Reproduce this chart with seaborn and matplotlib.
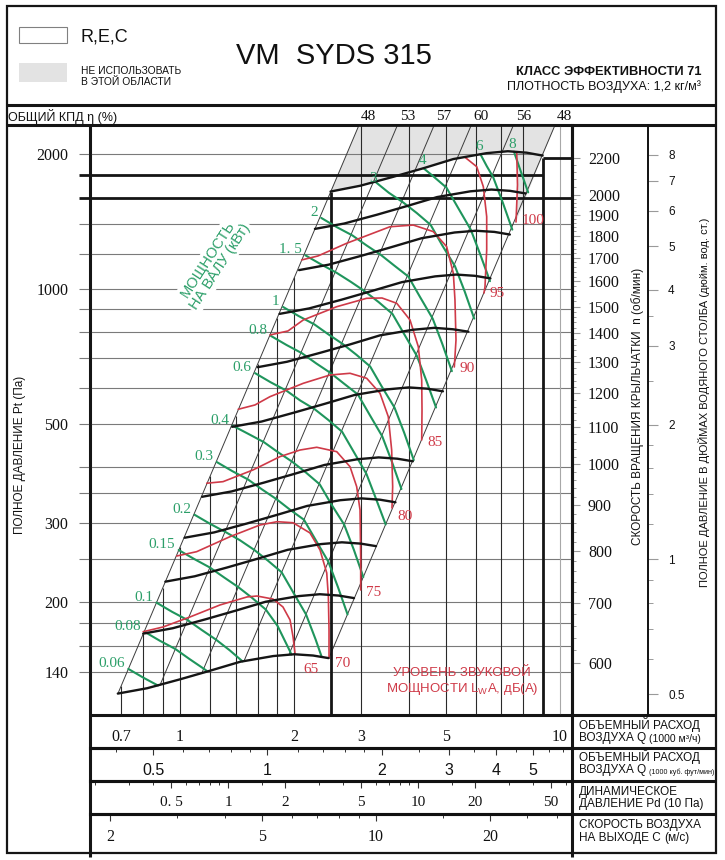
import numpy as np
import pandas as pd
import matplotlib
matplotlib.use("Agg")
import matplotlib.pyplot as plt
from matplotlib.patches import Rectangle
from matplotlib.ticker import NullFormatter
import seaborn as sns

# ---------------------------------------------------------------
# chart values
# flow Q in 1000 m3/h, total pressure P in Pa
# ---------------------------------------------------------------

# fan curves, one per impeller speed (rpm)
speed_rpm = [600, 700, 800, 900, 1000, 1200, 1400, 1600, 1800, 2000, 2200]
speed_q = [
    [0.686, 0.82, 1.0, 1.2, 1.44, 1.76, 2.0, 2.24, 2.46],
    [0.800, 0.957, 1.167, 1.40, 1.68, 2.053, 2.333, 2.613, 2.87],
    [0.915, 1.093, 1.333, 1.60, 1.92, 2.347, 2.667, 2.987, 3.28],
    [1.029, 1.23, 1.5, 1.8, 2.16, 2.64, 3.0, 3.36, 3.69],
    [1.143, 1.367, 1.667, 2.0, 2.4, 2.933, 3.333, 3.733, 4.1],
    [1.372, 1.64, 2.0, 2.4, 2.88, 3.52, 4.0, 4.48, 4.92],
    [1.601, 1.913, 2.333, 2.8, 3.36, 4.107, 4.667, 5.227, 5.74],
    [1.829, 2.187, 2.667, 3.2, 3.84, 4.693, 5.333, 5.973, 6.56],
    [2.058, 2.46, 3.0, 3.6, 4.32, 5.28, 6.0, 6.72, 7.38],
    [2.265, 2.705, 3.30, 3.96, 4.75, 5.81, 6.60, 7.39, 8.12],
    [2.49, 2.98, 3.64, 4.37, 5.24, 6.41, 7.29, 8.17, 9.0],
]
speed_p = [
    [125, 128.5, 134.5, 140.6, 147.2, 151.6, 153, 152, 150],
    [170.1, 174.9, 183.1, 191.4, 200.4, 206.3, 208.3, 206.9, 204.2],
    [222.2, 228.4, 239.1, 250.0, 261.7, 269.5, 272.0, 270.2, 266.7],
    [278.5, 286.2, 299.6, 313.2, 327.9, 337.7, 340.9, 338.6, 334.1],
    [343.7, 353.3, 369.9, 386.7, 404.8, 416.9, 420.8, 418, 412.5],
    [492.5, 506, 530, 554, 580, 597, 603, 599, 591],
    [669, 688, 720, 752, 788, 811, 819, 813, 803],
    [880, 905, 947, 990, 1036, 1067, 1077, 1070, 1056],
    [1102, 1133, 1186, 1240, 1298, 1337, 1349, 1341, 1323],
    [1362, 1400, 1465, 1532, 1604, 1652, 1667, 1656, 1634],
    [1650, 1700, 1780, 1860, 1950, 2010, 2030, 2015, 1985],
]

# sound power level contours, dB(A)
sound_db = ["65", "70", "75", "80", "85", "90", "95", "100"]
sound_q = [
    [0.800, 0.902, 1.062, 1.274, 1.501, 1.594, 1.757, 1.866, 1.948, 1.984, 2.007],
    [0.980, 1.106, 1.354, 1.623, 1.800, 1.984, 2.198, 2.336, 2.433, 2.457, 2.467, 2.467],
    [1.176, 1.298, 1.556, 1.833, 2.070, 2.290, 2.585, 2.802, 2.917, 2.977, 2.989, 2.989],
    [1.423, 1.575, 1.725, 2.111, 2.481, 2.802, 3.099, 3.360, 3.533, 3.606, 3.628, 3.613],
    [1.725, 1.924, 2.111, 2.585, 3.099, 3.401, 3.719, 4.030, 4.238, 4.326, 4.334, 4.326],
    [2.090, 2.307, 2.746, 3.569, 4.111, 4.641, 5.032, 5.240, 5.292, 5.325, 5.271],
    [5.623, 6.037, 6.284, 6.414, 6.414, 6.348, 6.310],
    [7.693, 7.73, 7.66],
]
sound_p = [
    [171.8, 176.0, 185.3, 197.1, 205.4, 206.4, 203.2, 195.1, 182.5, 167.2, 154.0],
    [253.5, 259.2, 280.0, 297.3, 302.4, 300.8, 285.4, 261.5, 232.4, 205.7, 173.3, 150.1],
    [368.5, 371.5, 394.5, 422.5, 437.1, 443.3, 433.4, 401.1, 362.1, 321.1, 248.5, 212.9],
    [538.9, 551.0, 575.0, 615.9, 642.7, 648.4, 632.0, 585.1, 518.8, 437.1, 362.1, 324.5],
    [789.5, 806.0, 852.9, 913.0, 953.3, 954.8, 929.1, 852.9, 743.3, 626.5, 537.0, 460.3],
    [1161, 1185, 1265, 1377, 1389, 1343, 1243, 1084, 945, 769.4, 669.8],
    [1968, 1875, 1692, 1450, 1222, 1012, 979.6],
    [2020, 1707, 1411],
]

# shaft power contours, kW
power_kw = ["0.06", "0.08", "0.1", "0.15", "0.2", "0.3", "0.4", "0.6",
            "0.8", "1", "1. 5", "2", "3", "4", "6", "8"]
power_q = [
    [0.731, 0.804, 0.875],
    [0.805, 0.885, 0.972, 1.059, 1.154, 1.177],
    [0.867, 0.953, 1.047, 1.141, 1.243, 1.352, 1.461],
    [0.992, 1.091, 1.198, 1.306, 1.423, 1.547, 1.682, 1.806, 1.950, 1.963],
    [1.092, 1.200, 1.319, 1.437, 1.566, 1.703, 1.851, 1.987, 2.146, 2.275, 2.360],
    [1.250, 1.374, 1.510, 1.645, 1.793, 1.950, 2.119, 2.275, 2.457, 2.604, 2.760],
    [1.376, 1.512, 1.662, 1.811, 1.974, 2.146, 2.332, 2.504, 2.703, 2.867, 3.037],
    [1.576, 1.731, 1.903, 2.073, 2.259, 2.457, 2.670, 2.867, 3.094, 3.281, 3.477],
    [1.734, 1.906, 2.094, 2.281, 2.487, 2.703, 2.938, 3.154, 3.407, 3.611, 3.826],
    [1.867, 2.053, 2.256, 2.458, 2.679, 2.912, 3.165, 3.398, 3.668, 3.890, 4.123],
    [2.138, 2.350, 2.582, 2.813, 3.065, 3.333, 3.623, 3.890, 4.201, 4.454, 4.719],
    [2.353, 2.587, 2.842, 3.097, 3.375, 3.668, 3.990, 4.280, 4.624, 4.900, 5.194],
    [3.265, 3.544, 3.864, 4.201, 4.567, 4.898, 5.290, 5.610, 5.946],
    [4.374, 4.624, 5.025, 5.394, 5.825, 6.173, 6.543],
    [6.173, 6.417, 6.668, 7.067, 7.490],
    [7.568, 7.780, 8.247],
]
power_p = [
    [141.9, 135.4, 130.3],
    [171.9, 164.0, 157.2, 149.3, 142.1, 140.4],
    [199.5, 190.3, 182.4, 173.3, 165.0, 156.1, 147.5],
    [261.4, 249.5, 239.0, 227.1, 216.1, 204.5, 192.5, 177.0, 155.0, 152.8],
    [313.4, 299.1, 286.6, 275.0, 261.8, 247.6, 233.2, 210.1, 187.8, 165.0, 150.9],
    [410.8, 392.0, 375.7, 356.8, 339.7, 321.4, 305.5, 275.3, 246.2, 216.1, 187.8],
    [495.3, 475.0, 455.2, 432.2, 411.5, 389.2, 366.4, 330.3, 298.1, 261.9, 227.6],
    [648.9, 619.3, 593.5, 563.6, 539.5, 510.0, 480.2, 432.7, 386.8, 339.8, 298.2],
    [785.9, 750.1, 718.8, 682.5, 649.9, 614.6, 581.6, 524.2, 468.7, 411.5, 357.7],
    [911.8, 870.1, 833.9, 792.0, 754.1, 713.2, 671.6, 605.2, 543.8, 477.7, 415.1],
    [1189, 1135, 1087, 1038, 988.2, 934.7, 879.9, 793.0, 709.0, 622.6, 543.9],
    [1441, 1374, 1317, 1251, 1192, 1127, 1066, 960.4, 858.6, 754.5, 655.5],
    [1735, 1640, 1561, 1477, 1390, 1252, 1125, 988.6, 858.8],
    [1860, 1789, 1684, 1517, 1356, 1192, 1041],
    [2000, 1880, 1778, 1561, 1357],
    [2025, 1891, 1643],
]

# total efficiency lines (%), straight system lines
eff_pct = ["48", "53", "57", "60", "56", "48"]
eff_q_bottom = [0.687, 0.886, 1.143, 1.474, 1.936, 2.466]
eff_p_bottom = [125.2, 130.6, 139.3, 147.8, 152.9, 150.1]
eff_q_top = [2.959, 3.736, 4.667, 5.843, 7.545, 9.705]
eff_p_top = [2323, 2323, 2323, 2323, 2323, 2323]

# axis ticks
q_ticks = [0.7, 1, 2, 3, 5, 10]
q_tick_labels = ["0.7", "1", "2", "3", "5", "10"]
q_minor = [0.8, 0.9, 1.2, 1.4, 1.6, 1.8, 2.5, 4, 6, 7, 8, 9]
q_grid_low = [0.7, 0.8, 0.9, 1, 1.2, 1.4, 1.6, 1.8, 2]
q_grid_full = [3, 4, 5, 6, 7, 8]
p_ticks = [140, 200, 300, 500, 1000, 2000]
p_grid = [140, 160, 180, 200, 250, 300, 350, 400, 500, 600, 700, 800, 900,
          1000, 1200, 1400]
rpm_ticks = [600, 700, 800, 900, 1000, 1100, 1200, 1300, 1400, 1500, 1600,
             1700, 1800, 1900, 2000, 2200]
inch_ticks = [0.5, 1, 2, 3, 4, 5, 6, 7, 8]
inch_minor = [0.6, 0.7, 0.8, 0.9, 1.2, 1.4, 1.6, 1.8, 2.5, 3.5]
cfm_ticks = [0.5, 1, 2, 3, 4, 5]
cfm_minor = [0.4, 0.6, 0.7, 0.8, 0.9, 1.2, 1.4, 1.6, 1.8, 2.5, 3.5, 4.5, 5.5, 6]
pd_ticks = [0.5, 1, 2, 5, 10, 20, 50]
pd_tick_labels = ["0. 5", "1", "2", "5", "10", "20", "50"]
pd_minor = [0.2, 0.3, 0.4, 0.6, 0.7, 0.8, 0.9, 1.5, 3, 4, 6, 7, 8, 9, 15, 30, 40, 60]
vel_ticks = [2, 5, 10, 20]
vel_minor = [3, 4, 6, 7, 8, 9, 15, 25, 30]

# unit conversions used by the side and bottom scales
RPM_REF_PA = 406.0      # Pa on the speed scale at 1000 rpm
PA_PER_INCH = 249.0
M3H_PER_CFM = 1.699
VEL_PER_Q = 3.05        # outlet velocity m/s per 1000 m3/h
PD_PER_Q2 = 0.558       # dynamic pressure (10 Pa) per (1000 m3/h)^2

Q_LIM = (0.5796, 10.755)
P_LIM = (111.97, 2323)
GRID_Q0 = 0.542         # horizontal lines start a little left of the frame

BLACK = "#151515"
RED = "#cf3a48"
GREEN = "#1f955c"
GREEN_TXT = "#2c9f69"
FILL = "#e3e3e3"

sns.set_style("white")
SANS = ["Liberation Sans", "DejaVu Sans"]
SERIF = ["Liberation Serif", "DejaVu Serif"]
plt.rcParams["font.family"] = SANS
plt.rcParams["text.color"] = "#111111"
plt.rcParams["axes.edgecolor"] = "#111111"
plt.rcParams["xtick.color"] = "#333333"
plt.rcParams["ytick.color"] = "#333333"
plt.rcParams["xtick.labelcolor"] = "#111111"
plt.rcParams["ytick.labelcolor"] = "#111111"


def curve_frame(names, qs, ps):
    rows = []
    for name, q, p in zip(names, qs, ps):
        for i, (qi, pi) in enumerate(zip(q, p)):
            rows.append((name, i, qi, pi))
    return pd.DataFrame(rows, columns=["curve", "order", "Q", "P"])


def pa_to_rpm(p):
    return 1000 * np.sqrt(np.clip(p, 1e-9, None) / RPM_REF_PA)


def rpm_to_pa(n):
    return RPM_REF_PA * (np.asarray(n, dtype=float) / 1000) ** 2


fig = plt.figure(figsize=(7.25, 8.6), dpi=100)

# page layer in pixel units for the frame, header and captions
frame = fig.add_axes([0, 0, 1, 1])
frame.set_xlim(0, 725)
frame.set_ylim(860, 0)
frame.axis("off")

ax = fig.add_axes([90 / 725, 145 / 860, 482 / 725, 590 / 860])
ax.set_facecolor("none")
ax.set_xscale("log")
ax.set_yscale("log")

# "do not use" area: above the top speed curve and right of the 100 dB line
top_q, top_p = speed_q[-1], speed_p[-1]
edge_q, edge_p = sound_q[-1], sound_p[-1]
poly_q = [eff_q_top[0], eff_q_top[-1]] + edge_q[::-1]
poly_p = [eff_p_top[0], eff_p_top[-1]] + edge_p[::-1]
for q, p in sorted(zip(top_q, top_p), reverse=True):
    if q < edge_q[0]:
        poly_q.append(q)
        poly_p.append(p)
ax.fill(poly_q, poly_p, color=FILL, lw=0, zorder=0.5)

# grid
ax.hlines(p_grid, GRID_Q0, Q_LIM[1], colors="#7a7a7a", lw=0.8, clip_on=False, zorder=1)
ax.hlines(2000, GRID_Q0, 9, colors="#7a7a7a", lw=0.8, clip_on=False, zorder=1)
ax.hlines(1800, GRID_Q0, 9, colors=BLACK, lw=2.0, clip_on=False, zorder=1.3)
ax.hlines(1600, GRID_Q0, Q_LIM[1], colors=BLACK, lw=2.0, clip_on=False, zorder=1.3)
ax.hlines(rpm_to_pa(2200), 9, Q_LIM[1], colors=BLACK, lw=2.0, zorder=1.3)

lq = np.log10([eff_q_bottom[0], eff_q_top[0]])
lp = np.log10([eff_p_bottom[0], eff_p_top[0]])
p_left_edge = 10 ** np.interp(np.log10(q_grid_low), lq, lp)
ax.vlines(q_grid_low, P_LIM[0], p_left_edge, colors="#2a2a2a", lw=0.8, zorder=1)
ax.vlines(q_grid_full, P_LIM[0], P_LIM[1], colors="#2a2a2a", lw=0.8, zorder=1)
ax.vlines(10, P_LIM[0], P_LIM[1], colors="#a8a8a8", lw=0.8, zorder=1)
ax.vlines(2.5, P_LIM[0], top_p[0], colors=BLACK, lw=2.0, zorder=1.3)
ax.vlines(9, P_LIM[0], rpm_to_pa(2200), colors=BLACK, lw=2.0, zorder=1.3)

# efficiency lines
eff_df = curve_frame(range(len(eff_pct)),
                     [[a, b] for a, b in zip(eff_q_bottom, eff_q_top)],
                     [[a, b] for a, b in zip(eff_p_bottom, eff_p_top)])
sns.lineplot(data=eff_df, x="Q", y="P", units="curve", estimator=None, sort=False,
             color="#3c3c3c", linewidth=0.7, legend=False, ax=ax, zorder=1.2)

# power, sound and speed curves
sns.lineplot(data=curve_frame(power_kw, power_q, power_p), x="Q", y="P",
             units="curve", estimator=None, sort=False, color=GREEN,
             linewidth=1.5, legend=False, ax=ax, zorder=2)
sns.lineplot(data=curve_frame(sound_db, sound_q, sound_p), x="Q", y="P",
             units="curve", estimator=None, sort=False, color=RED,
             linewidth=1.2, legend=False, ax=ax, zorder=2.2)
sns.lineplot(data=curve_frame(speed_rpm, speed_q, speed_p), x="Q", y="P",
             units="curve", estimator=None, sort=False, color=BLACK,
             linewidth=1.7, legend=False, ax=ax, zorder=2.4)

ax.set_xlim(*Q_LIM)
ax.set_ylim(*P_LIM)
ax.set_xlabel("")
ax.set_ylabel("")
for s in ax.spines.values():
    s.set_linewidth(2.0)
    s.set_color(BLACK)

# curve labels
for i, lbl in enumerate(power_kw):
    if i < 12:
        kw = dict(xytext=(-2.5, 4), ha="right")
    elif i == 12:
        kw = dict(xytext=(-1.5, 2.5), ha="center")
    else:
        kw = dict(xytext=(-1, 5.5), ha="center")
    ax.annotate(lbl, (power_q[i][0], power_p[i][0]), textcoords="offset points",
                va="center", color=GREEN_TXT, fontsize=11, fontfamily=SERIF,
                zorder=3, **kw)

red_offsets = [(6, -12), (4, -4), (4, -1.5), (4, -6), (4, -1.5), (4, -1), (4, -0.5), (4, 1)]
for i, lbl in enumerate(sound_db):
    ax.annotate(lbl, (sound_q[i][-1], sound_p[i][-1]), xytext=red_offsets[i],
                textcoords="offset points", ha="left", va="center", color=RED,
                fontsize=11, fontfamily=SERIF, zorder=3)

for q, lbl in zip(eff_q_top, eff_pct):
    ax.annotate(lbl, (q, 1.0), xycoords=("data", "axes fraction"), xytext=(7, 6),
                textcoords="offset points", ha="center", va="center",
                fontsize=11, fontfamily=SERIF, annotation_clip=False)

ax.text(214, 263, "МОЩНОСТЬ\nНА ВАЛУ (кВт)", transform=frame.transData,
        rotation=57, ha="center", va="center", color=GREEN_TXT, fontsize=10.5,
        linespacing=1.05, zorder=1.5,
        bbox=dict(fc="white", ec="none", pad=1.5))
ax.text(462, 682, "УРОВЕНЬ ЗВУКОВОЙ\nМОЩНОСТИ L$_\\mathregular{W}$A, дБ(А)",
        transform=frame.transData, ha="center", va="center", color=RED,
        fontsize=9.5, linespacing=1.25, zorder=3)

# main ticks: flow along the bottom, pressure on the left
ax.set_xticks(q_ticks, q_tick_labels, fontfamily=SERIF, fontsize=11.5)
ax.set_xticks(q_minor, minor=True)
ax.xaxis.set_minor_formatter(NullFormatter())
ax.set_yticks(p_ticks, [str(v) for v in p_ticks], fontfamily=SERIF, fontsize=11.5)
ax.set_yticks([], minor=True)
ax.tick_params(axis="x", which="major", direction="out", length=6, width=0.8, pad=4)
ax.tick_params(axis="x", which="minor", direction="out", length=3.5, width=0.7)
ax.tick_params(axis="y", which="major", direction="out", length=11.5, width=0.8, pad=4)
ax.tick_params(top=False, right=False)

# impeller speed scale
rpm_ax = ax.secondary_yaxis("right", functions=(pa_to_rpm, rpm_to_pa))
rpm_minor = [n for n in np.arange(620, 2000, 20) if n % 100] + [2040, 2080, 2120, 2160]
rpm_ax.set_ticks(rpm_ticks, [str(n) for n in rpm_ticks], fontfamily=SERIF, fontsize=11.5)
rpm_ax.set_ticks(rpm_minor, minor=True)
rpm_ax.yaxis.set_minor_formatter(NullFormatter())
rpm_ax.tick_params(which="major", length=5.5, width=0.8, color="#9a9a9a", pad=6)
rpm_ax.tick_params(which="minor", length=3, width=0.7, color="#9a9a9a")
rpm_ax.spines["right"].set_linewidth(2.2)

# inches of water scale
inch_ax = ax.secondary_yaxis((648 - 90) / 482,
                             functions=(lambda p: p / PA_PER_INCH,
                                        lambda i: i * PA_PER_INCH))
inch_ax.set_ticks(inch_ticks, [f"{v:g}" for v in inch_ticks], fontsize=8.5)
inch_ax.set_ticks(inch_minor, minor=True)
inch_ax.yaxis.set_minor_formatter(NullFormatter())
inch_ax.tick_params(which="major", length=7.5, width=0.8, color="#9a9a9a", pad=7)
inch_ax.tick_params(which="minor", length=3.5, width=0.7, color="#9a9a9a")
inch_ax.spines["right"].set_linewidth(1.4)

# bottom scales: cfm, dynamic pressure, outlet velocity
cfm_ax = ax.secondary_xaxis(-33 / 590, functions=(lambda q: q / M3H_PER_CFM,
                                                   lambda c: c * M3H_PER_CFM))
cfm_ax.set_ticks(cfm_ticks, [f"{v:g}" for v in cfm_ticks], fontsize=11.5)
cfm_ax.set_ticks(cfm_minor, minor=True)
cfm_ax.tick_params(which="major", length=5, width=0.8, pad=5.5)

pd_ax = ax.secondary_xaxis(-66 / 590, functions=(
    lambda q: PD_PER_Q2 * np.asarray(q, dtype=float) ** 2,
    lambda d: np.sqrt(np.clip(d, 1e-12, None) / PD_PER_Q2)))
pd_ax.set_ticks(pd_ticks, pd_tick_labels, fontfamily=SERIF, fontsize=11)
pd_ax.set_ticks(pd_minor, minor=True)
pd_ax.tick_params(which="major", length=5, width=0.8, pad=6)

vel_ax = ax.secondary_xaxis(-99 / 590, functions=(lambda q: q * VEL_PER_Q,
                                                   lambda v: v / VEL_PER_Q))
vel_ax.set_ticks(vel_ticks, [str(v) for v in vel_ticks], fontfamily=SERIF, fontsize=11.5)
vel_ax.set_ticks(vel_minor, minor=True)
vel_ax.tick_params(which="major", length=5, width=0.8, pad=6)

for sec in (cfm_ax, pd_ax, vel_ax):
    sec.xaxis.set_minor_formatter(NullFormatter())
    sec.tick_params(which="minor", length=3, width=0.7)
    sec.spines["bottom"].set_linewidth(2.2)

# ---------------- page frame, header and captions ----------------
def rule(x0, y0, x1, y1, lw):
    frame.plot([x0, x1], [y0, y1], color=BLACK, lw=lw, solid_capstyle="butt")


frame.add_patch(Rectangle((7, 6), 709, 847, fill=False, ec=BLACK, lw=1.6))
rule(7, 105, 716, 105, 2.2)
rule(7, 125, 716, 125, 2.2)
rule(90, 125, 90, 857, 2.2)
rule(572, 125, 572, 857, 2.2)
for y in (715, 748, 781, 814):
    rule(90, y, 716, y, 2.2)

frame.add_patch(Rectangle((19, 27), 48, 16, fc="white", ec="#808080", lw=0.8))
frame.add_patch(Rectangle((19, 63), 48, 19, fc=FILL, ec="none"))
frame.text(81, 37, "R,E,C", fontsize=13, va="center")
frame.text(81, 71, "НЕ ИСПОЛЬЗОВАТЬ", fontsize=7.4, va="center")
frame.text(81, 82, "В ЭТОЙ ОБЛАСТИ", fontsize=7.4, va="center")
frame.text(334, 56, "VM  SYDS 315", fontsize=21, ha="center", va="center")
frame.text(702, 72, "КЛАСС ЭФФЕКТИВНОСТИ 71", fontsize=9.3, fontweight="bold",
           ha="right", va="center")
frame.text(701, 87, "ПЛОТНОСТЬ ВОЗДУХА: 1,2 кг/м³", fontsize=9, ha="right", va="center")
frame.text(8, 116, "ОБЩИЙ КПД η (%)", fontsize=9, va="center")

frame.text(20, 455, "ПОЛНОЕ ДАВЛЕНИЕ Pt (Па)", rotation=90, fontsize=8.5,
           ha="center", va="center")
frame.text(638, 406, "СКОРОСТЬ ВРАЩЕНИЯ КРЫЛЬЧАТКИ  n (об/мин)", rotation=90,
           fontsize=8.5, ha="center", va="center")
frame.text(704, 402, "ПОЛНОЕ ДАВЛЕНИЕ В ДЮЙМАХ ВОДЯНОГО СТОЛБА (дюйм. вод. ст.)",
           rotation=90, fontsize=8, ha="center", va="center")

row_text = [
    ("ОБЪЕМНЫЙ РАСХОД", "ВОЗДУХА Q ", "(1000 м³/ч)", 7.5, 725),
    ("ОБЪЕМНЫЙ РАСХОД", "ВОЗДУХА Q ", "(1000 куб. фут/мин)", 5.1, 757),
    ("ДИНАМИЧЕСКОЕ", "ДАВЛЕНИЕ Pd ", "(10 Па)", 8.5, 792),
    ("СКОРОСТЬ ВОЗДУХА", "НА ВЫХОДЕ С ", "(м/с)", 8.5, 825),
]
for line1, line2, unit, unit_size, y in row_text:
    frame.text(579, y, line1, fontsize=8.5, va="center")
    t2 = frame.text(579, y + 12.5, line2, fontsize=8.5, va="center")
    frame.annotate(unit, xy=(1, 0), xycoords=t2, fontsize=unit_size,
                   ha="left", va="bottom")

fig.savefig("out.png", dpi=100)
